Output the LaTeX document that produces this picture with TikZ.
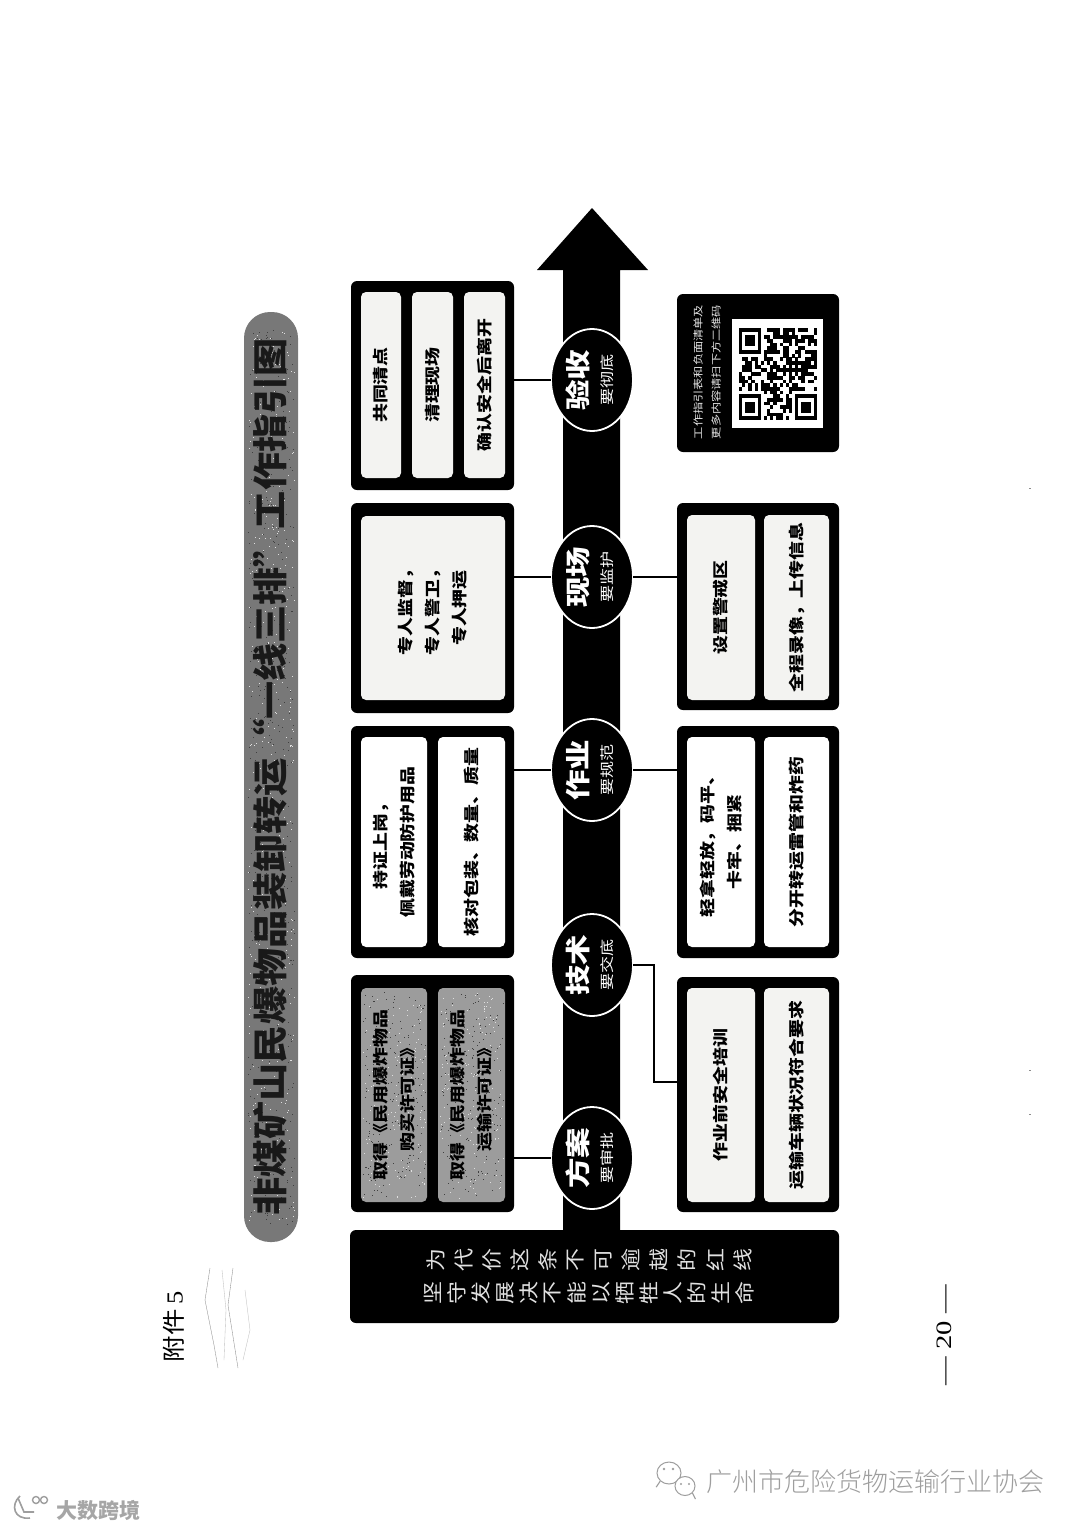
\documentclass[tikz,border=0pt]{standalone}
\usepackage{fontspec}
\setmainfont{Noto Sans CJK SC}
\newfontfamily\serifnum{Liberation Serif}
\usetikzlibrary{shapes.geometric,calc}
\definecolor{cream}{HTML}{F3F3F1}
\definecolor{midgray}{HTML}{9C9C9C}
\definecolor{pillgray}{HTML}{787878}
\tikzset{
  frame/.style={draw=none,fill=black,rounded corners=6pt,inner sep=0pt,outer sep=0pt},
  whitecard/.style={draw=none,fill=white,rounded corners=5pt,inner sep=0pt,outer sep=0pt},
  creamcard/.style={draw=none,fill=cream,rounded corners=5pt,inner sep=0pt,outer sep=0pt},
  graycard/.style={draw=none,fill=midgray,rounded corners=5pt,inner sep=0pt,outer sep=0pt},
  vtext/.style={rotate=90,xscale=1.22,align=center,inner sep=0pt,text=black,
    font=\fontsize{15.5}{27}\selectfont\bfseries},
  vsmall/.style={rotate=90,xscale=1.22,align=center,inner sep=0pt,text=white!90!black,
    font=\fontsize{10}{18}\selectfont},
  stage/.style={ellipse,draw=white,line width=1.8pt,fill=black,minimum width=82pt,minimum height=102pt,inner sep=0pt,outer sep=0pt},
  big/.style={rotate=90,xscale=1.22,inner sep=0pt,text=white,font=\fontsize{25}{27}\selectfont\bfseries},
  sub/.style={rotate=90,xscale=1.22,inner sep=0pt,text=white,font=\fontsize{14}{16}\selectfont},
  barchar/.style={rotate=90,xscale=1.15,inner sep=0pt,text=white!88!black,font=\fontsize{20}{22}\selectfont},
  link/.style={draw=black,line width=2.8pt},
  scratch/.style={draw=black!45,line width=0.35pt},
  wmline/.style={draw=black!38,line width=1.1pt},
}
\newcommand\rbox[6]{%
  \pgfmathsetmacro\rcx{(#2+#4)/2}\pgfmathsetmacro\rcy{(#3+#5)/2}%
  \pgfmathsetmacro\rw{#4-#2}\pgfmathsetmacro\rh{#5-#3}%
  \node[#6,minimum width=\rw pt,minimum height=\rh pt] (#1) at (\rcx,\rcy) {};}
\newcommand\tcard[7]{\rbox{#1}{#2}{#3}{#4}{#5}{#6}\node[vtext] (#1t) at (#1) {#7};}
% speckle over a rectangle: x0,y0,w,h,count
\newcommand\speckle[5]{%
  \foreach \q in {1,...,#5}{%
    \pgfmathsetmacro\sx{#1+rnd*#3}\pgfmathsetmacro\sy{#2+rnd*#4}\pgfmathsetmacro\st{rnd}%
    \ifdim\st pt<0.5pt \fill[black!75] (\sx,\sy) rectangle ++(1,1);\else \fill[white!75!gray] (\sx,\sy) rectangle ++(1,1);\fi
  }}
\begin{document}
\begin{tikzpicture}[x=1pt,y=-1pt]
\useasboundingbox (0,0) rectangle (1080,1528);
\fill[white] (0,0) rectangle (1080,1528);
\pgfmathsetseed{11}

% title pill
\rbox{pill}{244}{312}{298}{1242}{draw=none,fill=pillgray,rounded corners=26pt,inner sep=0pt}
\speckle{248}{330}{46}{895}{900}
\node[rotate=90,xscale=1.09,inner sep=0pt,text=black!90,font=\fontsize{35}{38}\selectfont\bfseries] (title) at (270,777) {非煤矿山民爆物品装卸转运“一线三排”工作指引图};

% arrow
\fill[black] (563,1232) -- (563,270) -- (537,270) -- (592,208) -- (648,270) -- (620,270) -- (620,1232) -- cycle;

% frames (left)
\rbox{L5}{351}{281}{514}{490}{frame}
\rbox{L4}{351}{503}{514}{713}{frame}
\rbox{L3}{351}{726}{514}{958}{frame}
\rbox{L1}{351}{975}{514}{1212}{frame}
% frames (right)
\rbox{R4}{677}{503}{839}{710}{frame}
\rbox{R3}{677}{726}{839}{958}{frame}
\rbox{R2}{677}{977}{839}{1212}{frame}
\rbox{QRbox}{677}{294}{839}{452}{frame}

% stages
\node[stage] (s5) at (592,380) {};
\node[stage] (s4) at (592,577) {};
\node[stage] (s3) at (592,770) {};
\node[stage] (s2) at (592,965) {};
\node[stage] (s1) at (592,1158) {};
\foreach \n/\a/\b in {s5/验收/要彻底,s4/现场/要监护,s3/作业/要规范,s2/技术/要交底,s1/方案/要审批}{
  \node[big] (\n a) at ($(\n)+(-14,0)$) {\a};
  \node[sub] (\n b) at ($(\n)+(15,0)$) {\b};
}

% connectors
\draw[link] (L5.east |- s5) -- (s5.west);
\draw[link] (L4.east |- s4) -- (s4.west);
\draw[link] (s4.east) -- (R4.west |- s4);
\draw[link] (L3.east |- s3) -- (s3.west);
\draw[link] (s3.east) -- (R3.west |- s3);
\draw[link] (L1.east |- s1) -- (s1.west);
\coordinate (elbowA) at (654,965);
\coordinate (elbowB) at (654,1082);
\draw[link] (s2.east) -- (elbowA) -- (elbowB) -- (R2.west |- elbowB);

% cards
\tcard{a1}{361}{292}{401}{478}{creamcard}{共同清点}
\tcard{a2}{412}{292}{453}{478}{creamcard}{清理现场}
\tcard{a3}{464}{292}{505}{478}{creamcard}{确认安全后离开}
\tcard{b1}{361}{516}{505}{700}{creamcard}{专人监督，\\专人警卫，\\专人押运}
\tcard{c1}{361}{737}{427}{947}{whitecard}{持证上岗，\\佩戴劳动防护用品}
\tcard{c2}{438}{737}{505}{947}{whitecard}{核对包装、数量、质量}
\rbox{d1}{361}{988}{427}{1202}{graycard}
\rbox{d2}{438}{988}{505}{1202}{graycard}
\speckle{363}{992}{62}{206}{350}
\speckle{440}{992}{63}{206}{350}
\node[vtext] (d1t) at (d1) {取得《民用爆炸物品\\购买许可证》};
\node[vtext] (d2t) at (d2) {取得《民用爆炸物品\\运输许可证》};
\tcard{e1}{687}{515}{755}{700}{creamcard}{设置警戒区}
\tcard{e2}{764}{515}{829}{700}{creamcard}{全程录像，上传信息}
\tcard{f1}{687}{737}{755}{947}{whitecard}{轻拿轻放，码平、\\卡牢、捆紧}
\tcard{f2}{764}{737}{829}{947}{whitecard}{分开转运雷管和炸药}
\tcard{g1}{687}{988}{755}{1202}{creamcard}{作业前安全培训}
\tcard{g2}{764}{988}{829}{1202}{creamcard}{运输车辆状况符合要求}

% QR box
\node[vsmall] (qrtext) at (707,372) {工作指引表和负面清单及\\更多内容请扫下方二维码};
\rbox{qrw}{732}{319}{823}{428}{draw=none,fill=white,inner sep=0pt}
\begin{scope}[shift={(739,328)},x=3.12pt,y=-3.68pt]
  \foreach \i in {0,...,24}{\foreach \j in {0,...,24}{
    \pgfmathsetmacro\k{rnd}
    \pgfmathparse{(\i<8 && \j>16) || (\i>16 && \j>16) || (\i<8 && \j<8) ? 0 : (\k<0.52 ? 1 : 0)}
    \ifnum\pgfmathresult=1 \fill[black] (\i,\j) rectangle ++(1.02,1.02);\fi
  }}
  \foreach \ox/\oy in {0/0,0/18,18/18}{
    \fill[black] (\ox,\oy) rectangle ++(7,7);
    \fill[white] (\ox+1,\oy+1) rectangle ++(5,5);
    \fill[black] (\ox+2,\oy+2) rectangle ++(3,3);
  }
\end{scope}

% bottom bar
\rbox{bar}{350}{1230}{839}{1323}{frame}
\foreach \c [count=\i from 0] in {为,代,价,这,条,不,可,逾,越,的,红,线}{
  \node[barchar] (ta\i) at (436+\i*27.9,1260) {\c};
}
\foreach \c [count=\i from 0] in {坚,守,发,展,决,不,能,以,牺,牲,人,的,生,命}{
  \node[barchar] (tb\i) at (433+\i*24,1293) {\c};
}

% page marks
\node[rotate=90,xscale=1.15,inner sep=0pt,font=\fontsize{23}{25}\selectfont] (att) at (174,1327) {附件\,{\serifnum 5}};
\node[rotate=90,xscale=1.3,inner sep=0pt,font=\fontsize{22}{24}\selectfont\serifnum] (pg) at (944,1335) {— 20 —};

% scan scratches
\draw[scratch] (210,1268) -- (205,1300) -- (214,1345) -- (218,1368);
\draw[scratch] (233,1268) -- (228,1305) -- (238,1368);
\draw[scratch,black!25] (222,1270) -- (226,1310) -- (224,1360);
\draw[scratch,black!25] (245,1290) -- (250,1330) -- (243,1360);
\draw[scratch,line width=0.8pt] (1029,488) -- (1031,488);
\draw[scratch,line width=0.8pt] (1029,1070) -- (1031,1070);
\draw[scratch,line width=0.8pt] (1029,1114) -- (1031,1114);

% watermarks
\node[inner sep=0pt,text=black!38,font=\fontsize{26}{28}\selectfont\fontspec{Noto Sans CJK SC Light}] (wm1) at (875,1482) {广州市危险货物运输行业协会};
\node[ellipse,draw=black!38,line width=1pt,minimum width=24pt,minimum height=22pt,inner sep=0pt] (wi1) at (669,1473) {};
\node[ellipse,draw=black!38,fill=white,line width=1pt,minimum width=20pt,minimum height=19pt,inner sep=0pt] (wi2) at (685,1486) {};
\fill[black!38] (664,1469) circle (1.4) (673,1469) circle (1.4) (681,1484) circle (1.2) (689,1484) circle (1.2);
\draw[wmline] (wi1.south west) -- ++(-4,6);
\draw[wmline] (wi2.south east) -- ++(3,6);
\node[inner sep=0pt,text=black!35,font=\fontsize{21}{23}\selectfont\bfseries] (wm2) at (98,1510) {大数跨境};
\draw[wmline,line width=1.6pt] (20,1496) .. controls (10,1505) and (14,1520) .. (30,1518);
\draw[wmline,line width=1.6pt] (18,1498) -- (24,1512) -- (34,1512);
\draw[wmline,line width=1.4pt] (36,1500) circle (3.5) (44,1500) circle (3.5);
\end{tikzpicture}
\end{document}
